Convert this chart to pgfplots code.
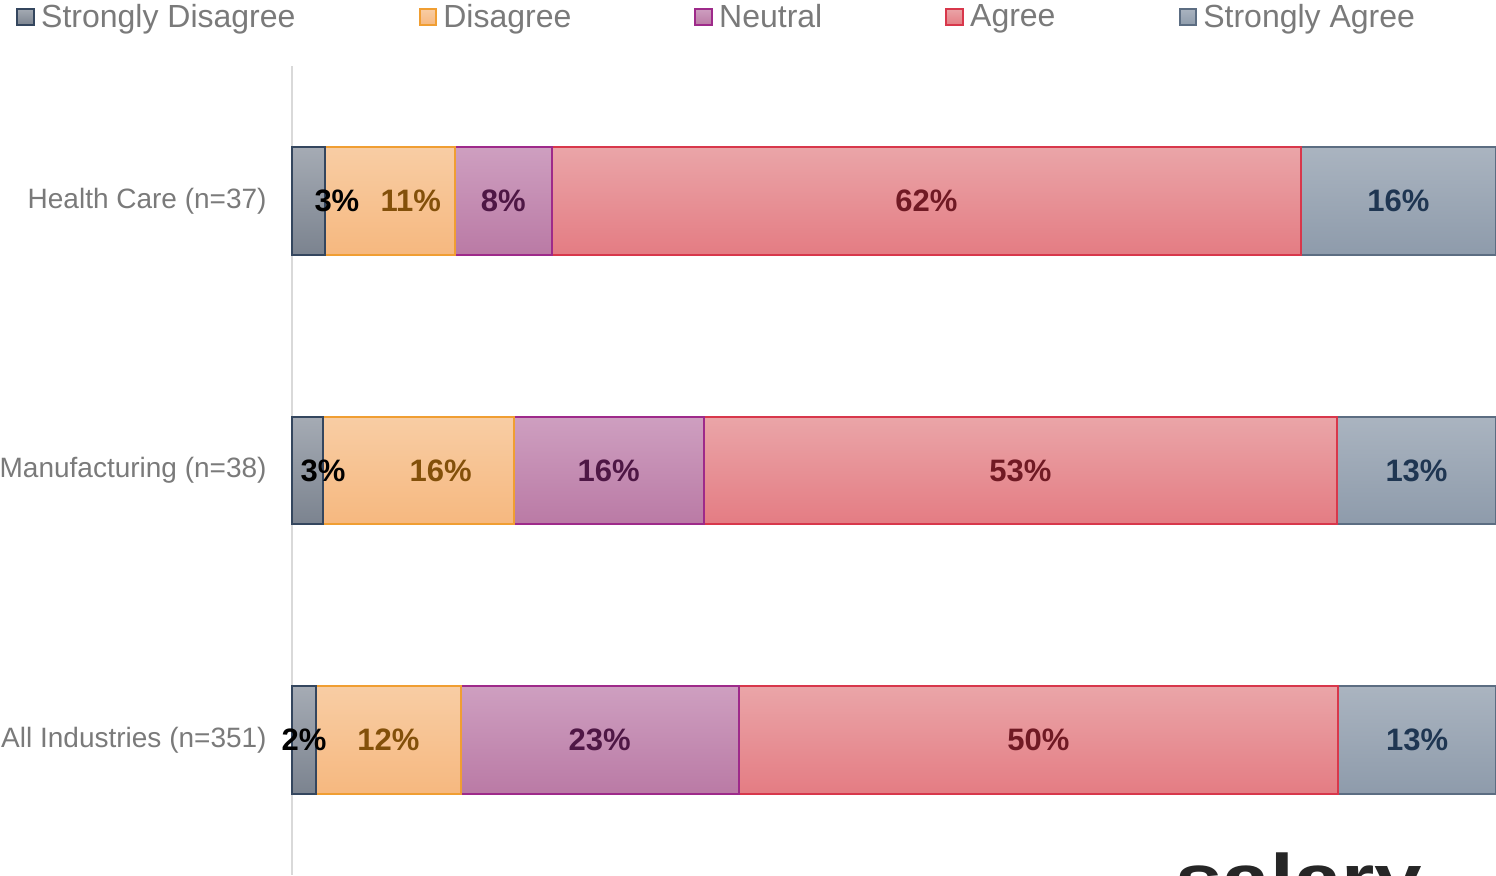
\documentclass[border=0pt]{standalone}
\usepackage{fontspec}
\setmainfont{Liberation Sans}
\usepackage{pgfplots}
\usepackage{pgfplotstable}
\pgfplotsset{compat=1.18}

% bar colours: top / bottom of the shading, border, label
\definecolor{sdT}{HTML}{A5ABB4}\definecolor{sdB}{HTML}{7B838F}\definecolor{sdL}{HTML}{34465E}\definecolor{sdX}{HTML}{000000}
\definecolor{dT}{HTML}{F8CDA4}\definecolor{dB}{HTML}{F6B87F}\definecolor{dL}{HTML}{F09E32}\definecolor{dX}{HTML}{83500A}
\definecolor{nT}{HTML}{CE9FC0}\definecolor{nB}{HTML}{BA7AA5}\definecolor{nL}{HTML}{9E2A8A}\definecolor{nX}{HTML}{4E1745}
\definecolor{aT}{HTML}{EAA5A8}\definecolor{aB}{HTML}{E47C83}\definecolor{aL}{HTML}{D8374B}\definecolor{aX}{HTML}{701A24}
\definecolor{saT}{HTML}{AAB4C0}\definecolor{saB}{HTML}{8E9BAB}\definecolor{saL}{HTML}{5C6D82}\definecolor{saX}{HTML}{1F3652}
\definecolor{axgray}{HTML}{D9D9D9}
\definecolor{txtgray}{HTML}{7A7A7A}

% one shading per series: the whole series path spans the three bars,
% so light->dark bands are laid where each bar sits (path = 25bp..75bp)
\newcommand\barshade[3]{%
  \pgfdeclareverticalshading{#1}{100bp}{color(0bp)=(#3); color(25bp)=(#3);
    color(33.333bp)=(#2); color(45.833bp)=(#3); color(54.167bp)=(#2);
    color(66.667bp)=(#3); color(75bp)=(#2); color(100bp)=(#2)}}
\barshade{shSD}{sdT}{sdB}
\barshade{shD}{dT}{dB}
\barshade{shN}{nT}{nB}
\barshade{shA}{aT}{aB}
\barshade{shSA}{saT}{saB}

% shares in percent; *off = label shift (in %) where labels were pushed apart
\pgfplotstableread{
y   sd   d    n    a    sa   sdoff doff
0   2.7  10.8 8.1  62.2 16.2 2.38  1.76
1   2.6  15.8 15.8 52.6 13.2 1.27  1.84
2   2.0  12.0 23.1 49.8 13.1 0     0
}\survey

\pgfplotsset{
  seg/.style n args={5}{
    shade, shading=#1, draw=#4, line width=1pt,
    point meta=explicit,
    nodes near coords={\pgfmathprintnumber[fixed,precision=0]{\pgfplotspointmeta}\%},
    every node near coord/.append style={anchor=center, text=#5,
      font=\fontsize{15.5}{18}\selectfont\bfseries},
    legend image code/.code={\draw[draw=#4, top color=#2, bottom color=#3, line width=1pt]
      (0pt,-4.2pt) rectangle (8.4pt,4.2pt);},
  },
}

\begin{document}
\begin{tikzpicture}
\begin{axis}[
    scale only axis,
    width=602pt, height=404.5pt,
    xbar stacked,
    bar width=0.4,
    xmin=0, xmax=100,
    ymin=-0.5, ymax=2.5,
    y dir=reverse,
    enlargelimits=false,
    hide x axis,
    axis y line*=left,
    y axis line style={draw=axgray, line width=1pt, -},
    ytick={0,1,2},
    yticklabels={Health Care (n=37), Manufacturing (n=38), All Industries (n=351)},
    major tick length=0pt,
    yticklabel style={font=\fontsize{14}{16}\selectfont, text=txtgray, inner sep=0pt, xshift=-12.5pt},
    /pgf/number format/assume math mode=true,
    legend columns=5,
    legend style={draw=none, fill=none, anchor=west,
      at={(axis description cs:-0.2342,1.0606)},
      font=\fontsize{16}{18}\selectfont, text=txtgray,
      nodes={inner sep=0pt},
      /tikz/every odd column/.append style={column sep=3pt},
      /tikz/every even column/.append style={column sep=61.5pt}},
    clip=false,
]
\addplot[seg={shSD}{sdT}{sdB}{sdL}{sdX},
  visualization depends on={\thisrow{sdoff} \as \off},
  every node near coord/.append style={shift={(axis direction cs:\off,0)}}]
  table[x=sd, y=y, meta=sd] {\survey};
\addlegendentry{Strongly Disagree}
\addplot[seg={shD}{dT}{dB}{dL}{dX},
  visualization depends on={\thisrow{doff} \as \off},
  every node near coord/.append style={shift={(axis direction cs:\off,0)}}]
  table[x=d, y=y, meta=d] {\survey};
\addlegendentry{Disagree}
\addplot[seg={shN}{nT}{nB}{nL}{nX}] table[x=n, y=y, meta=n] {\survey};
\addlegendentry{Neutral}
\addplot[seg={shA}{aT}{aB}{aL}{aX}] table[x=a, y=y, meta=a] {\survey};
\addlegendentry{Agree}
\addplot[seg={shSA}{saT}{saB}{saL}{saX}] table[x=sa, y=y, meta=sa] {\survey};
\addlegendentry{Strongly Agree}
\coordinate (sw) at (axis description cs:0,0);
\end{axis}
\pgfresetboundingbox
\path[use as bounding box] ([xshift=-146pt]sw) rectangle ([xshift=602pt,yshift=437.5pt]sw);
\begin{scope}
\clip ([xshift=-146pt]sw) rectangle ([xshift=602pt,yshift=437.5pt]sw);
\node[anchor=base west, inner sep=0pt, xscale=1.22, text=black!85,
  font=\fontsize{35}{35}\selectfont\bfseries] at ([xshift=441.5pt,yshift=-14pt]sw) {salary};
\end{scope}
\end{tikzpicture}
\end{document}
